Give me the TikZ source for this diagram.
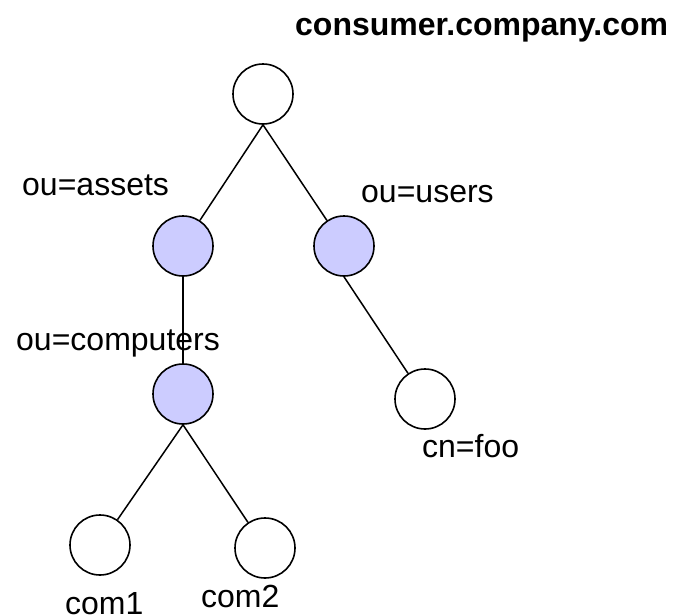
\documentclass[tikz,border=0pt]{standalone}
\usepackage{fontspec}
\setmainfont{Liberation Sans}
\begin{document}
\begin{tikzpicture}[x=1pt,y=-1pt,
  entry/.style={circle,draw=black,line width=1.6pt,minimum size=60pt,inner sep=0pt,fill=white},
  ouentry/.style={entry,fill=oublue},
  edge/.style={draw=black,line width=1.5pt},
  lbl/.style={anchor=base west,inner sep=0pt,font=\fontsize{32}{38}\selectfont},
  ttl/.style={lbl,font=\fontsize{32}{38}\selectfont\bfseries}]
\definecolor{oublue}{RGB}{204,204,255}
\useasboundingbox (0,0) rectangle (683,616);

% directory entries
\node[entry]   (root)  at (263,94)  {};
\node[ouentry] (assets) at (183,246) {};
\node[ouentry] (users)  at (344,246) {};
\node[ouentry] (comps)  at (183,394) {};
\node[entry]   (foo)    at (425,399) {};
\node[entry]   (com1)   at (100,545) {};
\node[entry]   (com2)   at (265,548) {};

% tree links
\draw[edge] (root.south) -- (assets);
\draw[edge] (root.south) -- (users);
\draw[edge] (assets.south) -- (comps.north);
\draw[edge] (users.south) -- (foo);
\draw[edge] (comps.south) -- (com1);
\draw[edge] (comps.south) -- (com2);

% labels
\node[ttl] (tdomain) at (295,35) {consumer.company.com};
\node[lbl] (tassets) at (22,195) {ou=assets};
\node[lbl] (tusers)  at (361,202) {ou=users};
\node[lbl] (tcomps)  at (16,350) {ou=computers};
\node[lbl] (tfoo)    at (422,457) {cn=foo};
\node[lbl] (tcom1)   at (65,614) {com1};
\node[lbl] (tcom2)   at (201,607) {com2};
\end{tikzpicture}
\end{document}
